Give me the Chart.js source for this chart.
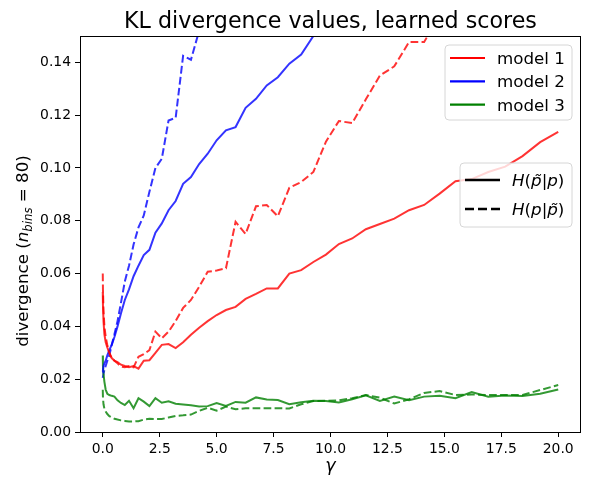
<!DOCTYPE html>
<html>
<head>
<meta charset="utf-8">
<script src="https://cdn.jsdelivr.net/npm/chart.js@4.4.1/dist/chart.umd.min.js"></script>
<style>
  html, body { margin: 0; padding: 0; background: #fff; }
  #wrap { width: 590px; height: 490px; }
</style>
</head>
<body>
<div id="wrap"><canvas id="kl-chart" width="590" height="490"></canvas></div>
<script>
// gamma grid shared by all curves
const gamma = [0, 0.008, 0.032, 0.072, 0.128, 0.2, 0.288, 0.392, 0.512, 0.648,
  0.8, 0.968, 1.152, 1.352, 1.568, 1.8, 2.048, 2.312, 2.592, 2.888,
  3.2, 3.528, 3.872, 4.232, 4.608, 5.0, 5.408, 5.832, 6.272, 6.728,
  7.2, 7.688, 8.192, 8.712, 9.248, 9.8, 10.368, 10.952, 11.552, 12.168,
  12.8, 13.448, 14.112, 14.792, 15.488, 16.2, 16.928, 17.672, 18.432, 19.208, 20];

// model 1 (red)
const model1Solid = [0.053, 0.048, 0.042, 0.037, 0.034, 0.032, 0.030, 0.028, 0.027, 0.0265,
  0.0255, 0.025, 0.0245, 0.025, 0.024, 0.027, 0.0272, 0.030, 0.0330, 0.0333,
  0.0318, 0.0340, 0.0368, 0.0395, 0.0420, 0.0443, 0.0462, 0.0474, 0.0504, 0.0523,
  0.0544, 0.0544, 0.0600, 0.0613, 0.0644, 0.0672, 0.0712, 0.0733, 0.0768, 0.0788,
  0.0808, 0.0840, 0.0860, 0.0903, 0.0950, 0.0958, 0.0985, 0.1005, 0.1045, 0.1098, 0.1137];
const model1Dashed = [0.060, 0.054, 0.046, 0.040, 0.036, 0.033, 0.030, 0.028, 0.027, 0.026,
  0.0248, 0.0245, 0.025, 0.0245, 0.0285, 0.0295, 0.031, 0.038, 0.0355, 0.038,
  0.042, 0.047, 0.050, 0.055, 0.0607, 0.0612, 0.062, 0.0796, 0.075, 0.0855,
  0.086, 0.0817, 0.0925, 0.0947, 0.0985, 0.110, 0.1178, 0.117, 0.126, 0.135,
  0.1385, 0.1477, 0.1477, 0.158, 0.163];

// model 2 (blue)
const model2Solid = [0.0225, 0.0235, 0.025, 0.026, 0.027, 0.029, 0.031, 0.033, 0.036, 0.040,
  0.045, 0.050, 0.054, 0.059, 0.063, 0.067, 0.069, 0.0755, 0.079, 0.084,
  0.0875, 0.094, 0.0966, 0.1015, 0.1054, 0.1105, 0.1143, 0.1155, 0.1228, 0.1262,
  0.1313, 0.1344, 0.1395, 0.1430, 0.1500, 0.1570, 0.164];
const model2Dashed = [0.0205, 0.021, 0.022, 0.0235, 0.025, 0.027, 0.029, 0.033, 0.037, 0.042,
  0.049, 0.057, 0.063, 0.071, 0.0775, 0.082, 0.091, 0.100, 0.1035, 0.118,
  0.119, 0.1425, 0.1410, 0.152, 0.162];

// model 3 (green)
const model3Solid = [0.029, 0.025, 0.022, 0.019, 0.016, 0.0145, 0.0140, 0.0137, 0.0134, 0.012,
  0.0110, 0.0102, 0.0118, 0.0090, 0.0128, 0.0115, 0.0098, 0.0128, 0.0111, 0.0116,
  0.0107, 0.0104, 0.0101, 0.0097, 0.0098, 0.0110, 0.0099, 0.0114, 0.0111, 0.0131,
  0.0123, 0.0121, 0.0105, 0.0113, 0.0118, 0.0117, 0.0112, 0.0124, 0.0139, 0.0118,
  0.0134, 0.0120, 0.0134, 0.0137, 0.0128, 0.0151, 0.0134, 0.0138, 0.0136, 0.0145, 0.0161];
const model3Dashed = [0.016, 0.013, 0.0105, 0.0088, 0.0078, 0.0068, 0.0060, 0.0055, 0.0050, 0.0047,
  0.0044, 0.0042, 0.0040, 0.0040, 0.0041, 0.0047, 0.0050, 0.0049, 0.0049, 0.0055,
  0.0061, 0.0063, 0.0066, 0.0080, 0.0092, 0.0081, 0.0096, 0.0086, 0.0090, 0.0090,
  0.0090, 0.0090, 0.0089, 0.0105, 0.0117, 0.0118, 0.0120, 0.0128, 0.0140, 0.0130,
  0.0108, 0.0124, 0.0148, 0.0155, 0.0140, 0.0142, 0.0140, 0.0140, 0.0140, 0.0159, 0.0178];

const xTicks = [0, 2.5, 5, 7.5, 10, 12.5, 15, 17.5, 20];
const yTicks = [0, 0.02, 0.04, 0.06, 0.08, 0.10, 0.12, 0.14];

const modelLabels = ['model 1', 'model 2', 'model 3'];
const modelColors = ['#ff0000', '#0000ff', '#008000'];
const curveColors = ['rgba(255, 0, 0, 0.8)', 'rgba(0, 0, 255, 0.8)', 'rgba(0, 128, 0, 0.8)'];

const FONT = "'DejaVu Sans', sans-serif";
const DASH = [7.7, 3.3];

function toPoints(values) {
  return values.map((v, i) => ({ x: gamma[i], y: v }));
}

function curve(values, colorIdx, dashed) {
  return {
    data: toPoints(values),
    borderColor: curveColors[colorIdx],
    borderWidth: 2,
    borderDash: dashed ? DASH : [],
    pointRadius: 0,
    tension: 0,
    fill: false
  };
}

// draw a row of text pieces with different fonts, left aligned at x
function drawRuns(ctx, runs, x, y, align) {
  let total = 0;
  runs.forEach(r => { ctx.font = r.font; total += ctx.measureText(r.text).width; });
  let cx = align === 'center' ? x - total / 2 : x;
  ctx.textAlign = 'left';
  ctx.textBaseline = 'alphabetic';
  runs.forEach(r => {
    ctx.font = r.font;
    ctx.fillText(r.text, cx, y + (r.dy || 0));
    cx += ctx.measureText(r.text).width;
  });
}

function legendBox(ctx, x, y, w, h) {
  const r = 4;
  ctx.beginPath();
  ctx.moveTo(x + r, y);
  ctx.arcTo(x + w, y, x + w, y + h, r);
  ctx.arcTo(x + w, y + h, x, y + h, r);
  ctx.arcTo(x, y + h, x, y, r);
  ctx.arcTo(x, y, x + w, y, r);
  ctx.closePath();
  ctx.fillStyle = 'rgba(255, 255, 255, 0.8)';
  ctx.fill();
  ctx.strokeStyle = '#d6d6d6';
  ctx.lineWidth = 1;
  ctx.stroke();
}

const decorations = {
  id: 'decorations',
  afterDraw(chart) {
    const ctx = chart.ctx;
    const a = chart.chartArea;
    ctx.save();

    // axes frame
    ctx.strokeStyle = '#000';
    ctx.lineWidth = 1;
    ctx.setLineDash([]);
    ctx.strokeRect(Math.round(a.left) + 0.5, Math.round(a.top) + 0.5,
      Math.round(a.right - a.left) - 1, Math.round(a.bottom - a.top));

    ctx.fillStyle = '#000';
    // title
    ctx.font = '22.2px ' + FONT;
    ctx.textAlign = 'center';
    ctx.textBaseline = 'alphabetic';
    ctx.fillText('KL divergence values, learned scores', (a.left + a.right) / 2, 28);

    // x label
    ctx.font = 'italic 17.5px ' + FONT;
    ctx.fillText('γ', (a.left + a.right) / 2, 471);

    // y label
    ctx.save();
    ctx.translate(28, 251);
    ctx.rotate(-Math.PI / 2);
    drawRuns(ctx, [
      { text: 'divergence (', font: '16.7px ' + FONT },
      { text: 'n', font: 'italic 16.7px ' + FONT },
      { text: 'bins', font: 'italic 11.7px ' + FONT, dy: 3.5 },
      { text: ' = 80)', font: '16.7px ' + FONT }
    ], 0, 0, 'center');
    ctx.restore();

    // legend 1: models
    legendBox(ctx, 445, 45, 127, 75);
    modelLabels.forEach((lab, i) => {
      const yy = 58 + i * 23.3;
      ctx.strokeStyle = modelColors[i];
      ctx.lineWidth = 2.2;
      ctx.beginPath();
      ctx.moveTo(450, yy);
      ctx.lineTo(485, yy);
      ctx.stroke();
      ctx.fillStyle = '#000';
      drawRuns(ctx, [{ text: lab, font: '16.7px ' + FONT }], 497, yy + 6);
    });

    // legend 2: line styles
    legendBox(ctx, 460, 163, 112, 64);
    [[], [9, 4]].forEach((dash, i) => {
      const yy = 180 + i * 29;
      ctx.strokeStyle = '#000';
      ctx.lineWidth = 2.6;
      ctx.setLineDash(dash);
      ctx.beginPath();
      ctx.moveTo(465, yy);
      ctx.lineTo(500, yy);
      ctx.stroke();
      ctx.setLineDash([]);
      ctx.fillStyle = '#000';
      const it = 'italic 16.7px ' + FONT;
      const up = '16.7px ' + FONT;
      const runs = i === 0
        ? [{ text: 'H', font: it }, { text: '(', font: up }, { text: 'p\u0303', font: it },
           { text: '|', font: up }, { text: 'p', font: it }, { text: ')', font: up }]
        : [{ text: 'H', font: it }, { text: '(', font: up }, { text: 'p', font: it },
           { text: '|', font: up }, { text: 'p\u0303', font: it }, { text: ')', font: up }];
      drawRuns(ctx, runs, 512, yy + 6);
    });

    ctx.restore();
  }
};

const ctx = document.getElementById('kl-chart').getContext('2d');
new Chart(ctx, {
  type: 'line',
  data: {
    datasets: [
      curve(model1Solid, 0, false),
      curve(model2Solid, 1, false),
      curve(model3Solid, 2, false),
      curve(model1Dashed, 0, true),
      curve(model2Dashed, 1, true),
      curve(model3Dashed, 2, true)
    ]
  },
  options: {
    responsive: false,
    animation: false,
    devicePixelRatio: 1,
    layout: { padding: { left: 0, right: 9, top: 36, bottom: 0 } },
    plugins: {
      legend: { display: false },
      title: { display: false },
      tooltip: { enabled: false }
    },
    scales: {
      x: {
        type: 'linear',
        min: -1,
        max: 21,
        afterFit: s => { s.height = 58; },
        afterBuildTicks: s => { s.ticks = xTicks.map(v => ({ value: v })); },
        border: { display: false },
        grid: { drawOnChartArea: false, drawTicks: true, tickLength: 5, color: '#000', lineWidth: 1 },
        ticks: {
          color: '#000',
          padding: 4,
          maxRotation: 0,
          font: { family: FONT, size: 13.9 },
          callback: v => v.toFixed(1)
        }
      },
      y: {
        type: 'linear',
        min: 0,
        max: 0.15,
        afterFit: s => { s.width = 80; },
        afterBuildTicks: s => { s.ticks = yTicks.map(v => ({ value: v })); },
        border: { display: false },
        grid: { drawOnChartArea: false, drawTicks: true, tickLength: 5, color: '#000', lineWidth: 1 },
        ticks: {
          color: '#000',
          padding: 4,
          font: { family: FONT, size: 13.9 },
          callback: v => v.toFixed(2)
        }
      }
    }
  },
  plugins: [decorations]
});
</script>
</body>
</html>
